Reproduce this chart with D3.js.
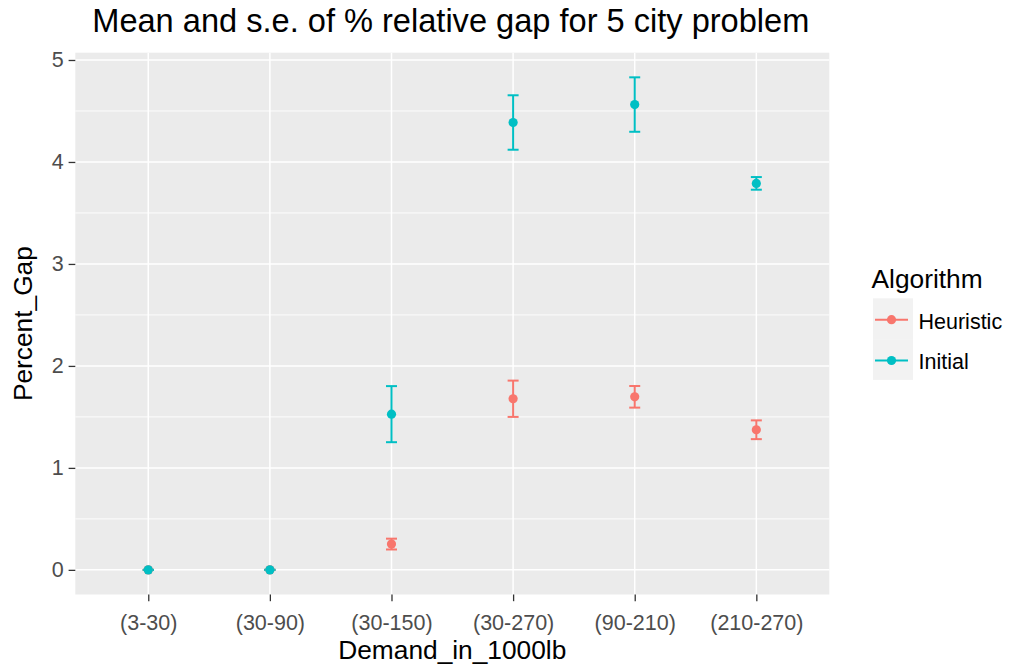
<!DOCTYPE html>
<html>
<head>
<meta charset="utf-8">
<script src="https://cdn.jsdelivr.net/npm/d3@7"></script>
<style>
  html, body { margin: 0; padding: 0; background: #ffffff; }
  svg { display: block; font-family: "Liberation Sans", Arial, sans-serif; }
</style>
</head>
<body>
<svg id="chart" width="1013" height="667"></svg>
<script>
// ---- data ----
const categories = ["(3-30)", "(30-90)", "(30-150)", "(30-270)", "(90-210)", "(210-270)"];
const seriesNames = ["Heuristic", "Initial"];
const heuristicMean = [0, 0, 0.253, 1.678, 1.697, 1.374];
const heuristicSE   = [0, 0, 0.053, 0.178, 0.106, 0.092];
const initialMean   = [0, 0, 1.527, 4.387, 4.563, 3.790];
const initialSE     = [0, 0, 0.275, 0.267, 0.267, 0.062];
const yTicks = [0, 1, 2, 3, 4, 5];
const yMinorTicks = [0.5, 1.5, 2.5, 3.5, 4.5];
const titleText = "Mean and s.e. of % relative gap for 5 city problem";
const xTitle = "Demand_in_1000lb";
const yTitle = "Percent_Gap";
const legendTitle = "Algorithm";

const colors = { "Heuristic": "#F8766D", "Initial": "#00BFC4" };

const rows = [];
seriesNames.forEach((s, si) => {
  const m = si === 0 ? heuristicMean : initialMean;
  const e = si === 0 ? heuristicSE : initialSE;
  categories.forEach((c, i) => rows.push({ series: s, cat: c, mean: m[i], lo: m[i] - e[i], hi: m[i] + e[i] }));
});

// ---- layout ----
const panel = { left: 75.3, right: 829.3, top: 52.7, bottom: 594.5 };
const svg = d3.select("#chart");

// discrete x with ggplot expansion of 0.6 units
const x = d3.scalePoint().domain(categories)
  .range([panel.left, panel.right]).padding(0.6);

const yMin = d3.min(rows, d => d.lo), yMax = d3.max(rows, d => d.hi);
const ex = (yMax - yMin) * 0.05;
const y = d3.scaleLinear().domain([yMin - ex, yMax + ex]).range([panel.bottom, panel.top]);

// panel background
svg.append("rect").attr("x", panel.left).attr("y", panel.top)
  .attr("width", panel.right - panel.left).attr("height", panel.bottom - panel.top)
  .attr("fill", "#EBEBEB");

// grid
const grid = svg.append("g");
grid.selectAll(".ymin").data(yMinorTicks).join("line")
  .attr("x1", panel.left).attr("x2", panel.right)
  .attr("y1", d => y(d)).attr("y2", d => y(d))
  .attr("stroke", "#ffffff").attr("stroke-width", 0.9);
grid.selectAll(".ymaj").data(yTicks).join("line")
  .attr("x1", panel.left).attr("x2", panel.right)
  .attr("y1", d => y(d)).attr("y2", d => y(d))
  .attr("stroke", "#ffffff").attr("stroke-width", 1.5);
grid.selectAll(".xmaj").data(categories).join("line")
  .attr("y1", panel.top).attr("y2", panel.bottom)
  .attr("x1", d => x(d)).attr("x2", d => x(d))
  .attr("stroke", "#ffffff").attr("stroke-width", 1.5);

// axes
const xAxis = svg.append("g").attr("transform", `translate(0,${panel.bottom})`)
  .call(d3.axisBottom(x).tickSize(6.7).tickPadding(8));
const yAxis = svg.append("g").attr("transform", `translate(${panel.left},0)`)
  .call(d3.axisLeft(y).tickValues(yTicks).tickFormat(d3.format("d")).tickSize(6.7).tickPadding(5));
[xAxis, yAxis].forEach(a => {
  a.select(".domain").remove();
  a.selectAll(".tick line").attr("stroke", "#333333").attr("stroke-width", 1.3);
  a.selectAll(".tick text").attr("fill", "#4D4D4D").style("font-size", "21.5px")
    .style("font-family", '"Liberation Sans", Arial, sans-serif');
});
xAxis.selectAll(".tick text").attr("dy", "0.95em");

// error bars
const hw = 5.5;
const eb = svg.append("g");
rows.forEach(d => {
  const cx = x(d.cat), c = colors[d.series];
  const g = eb.append("g").attr("stroke", c).attr("stroke-width", 2).attr("fill", "none");
  g.append("line").attr("x1", cx).attr("x2", cx).attr("y1", y(d.lo)).attr("y2", y(d.hi));
  g.append("line").attr("x1", cx - hw).attr("x2", cx + hw).attr("y1", y(d.lo)).attr("y2", y(d.lo));
  g.append("line").attr("x1", cx - hw).attr("x2", cx + hw).attr("y1", y(d.hi)).attr("y2", y(d.hi));
});

// points
svg.append("g").selectAll("circle").data(rows).join("circle")
  .attr("cx", d => x(d.cat)).attr("cy", d => y(d.mean)).attr("r", 4.6)
  .attr("fill", d => colors[d.series]);

// title
svg.append("text").attr("x", (panel.left + panel.right) / 2 - 1.5).attr("y", 32)
  .attr("text-anchor", "middle").style("font-size", "32.6px").attr("fill", "#000")
  .text(titleText);

// axis titles
svg.append("text").attr("x", (panel.left + panel.right) / 2).attr("y", 659)
  .attr("text-anchor", "middle").style("font-size", "26.3px").attr("fill", "#000")
  .text(xTitle);
svg.append("text").attr("transform", `translate(32,${(panel.top + panel.bottom) / 2}) rotate(-90)`)
  .attr("text-anchor", "middle").style("font-size", "26.3px").attr("fill", "#000")
  .text(yTitle);

// legend
const lg = svg.append("g");
lg.append("text").attr("x", 871.5).attr("y", 288).style("font-size", "26.3px").attr("fill", "#000")
  .text(legendTitle);
const keyH = 40.8, keyW = 40, keyX = 873, keyY0 = 298.3;
seriesNames.forEach((s, i) => {
  const ky = keyY0 + i * keyH;
  lg.append("rect").attr("x", keyX).attr("y", ky).attr("width", keyW).attr("height", keyH)
    .attr("fill", "#F2F2F2");
  lg.append("line").attr("x1", keyX + 2).attr("x2", keyX + keyW - 5)
    .attr("y1", ky + keyH / 2 + 1).attr("y2", ky + keyH / 2 + 1)
    .attr("stroke", colors[s]).attr("stroke-width", 2);
  lg.append("circle").attr("cx", keyX + keyW / 2 - 1.5).attr("cy", ky + keyH / 2 + 1).attr("r", 4.6)
    .attr("fill", colors[s]);
  lg.append("text").attr("x", 918.5).attr("y", ky + keyH / 2).attr("dy", "0.46em")
    .style("font-size", "21.5px").attr("fill", "#000").text(s);
});
</script>
</body>
</html>
